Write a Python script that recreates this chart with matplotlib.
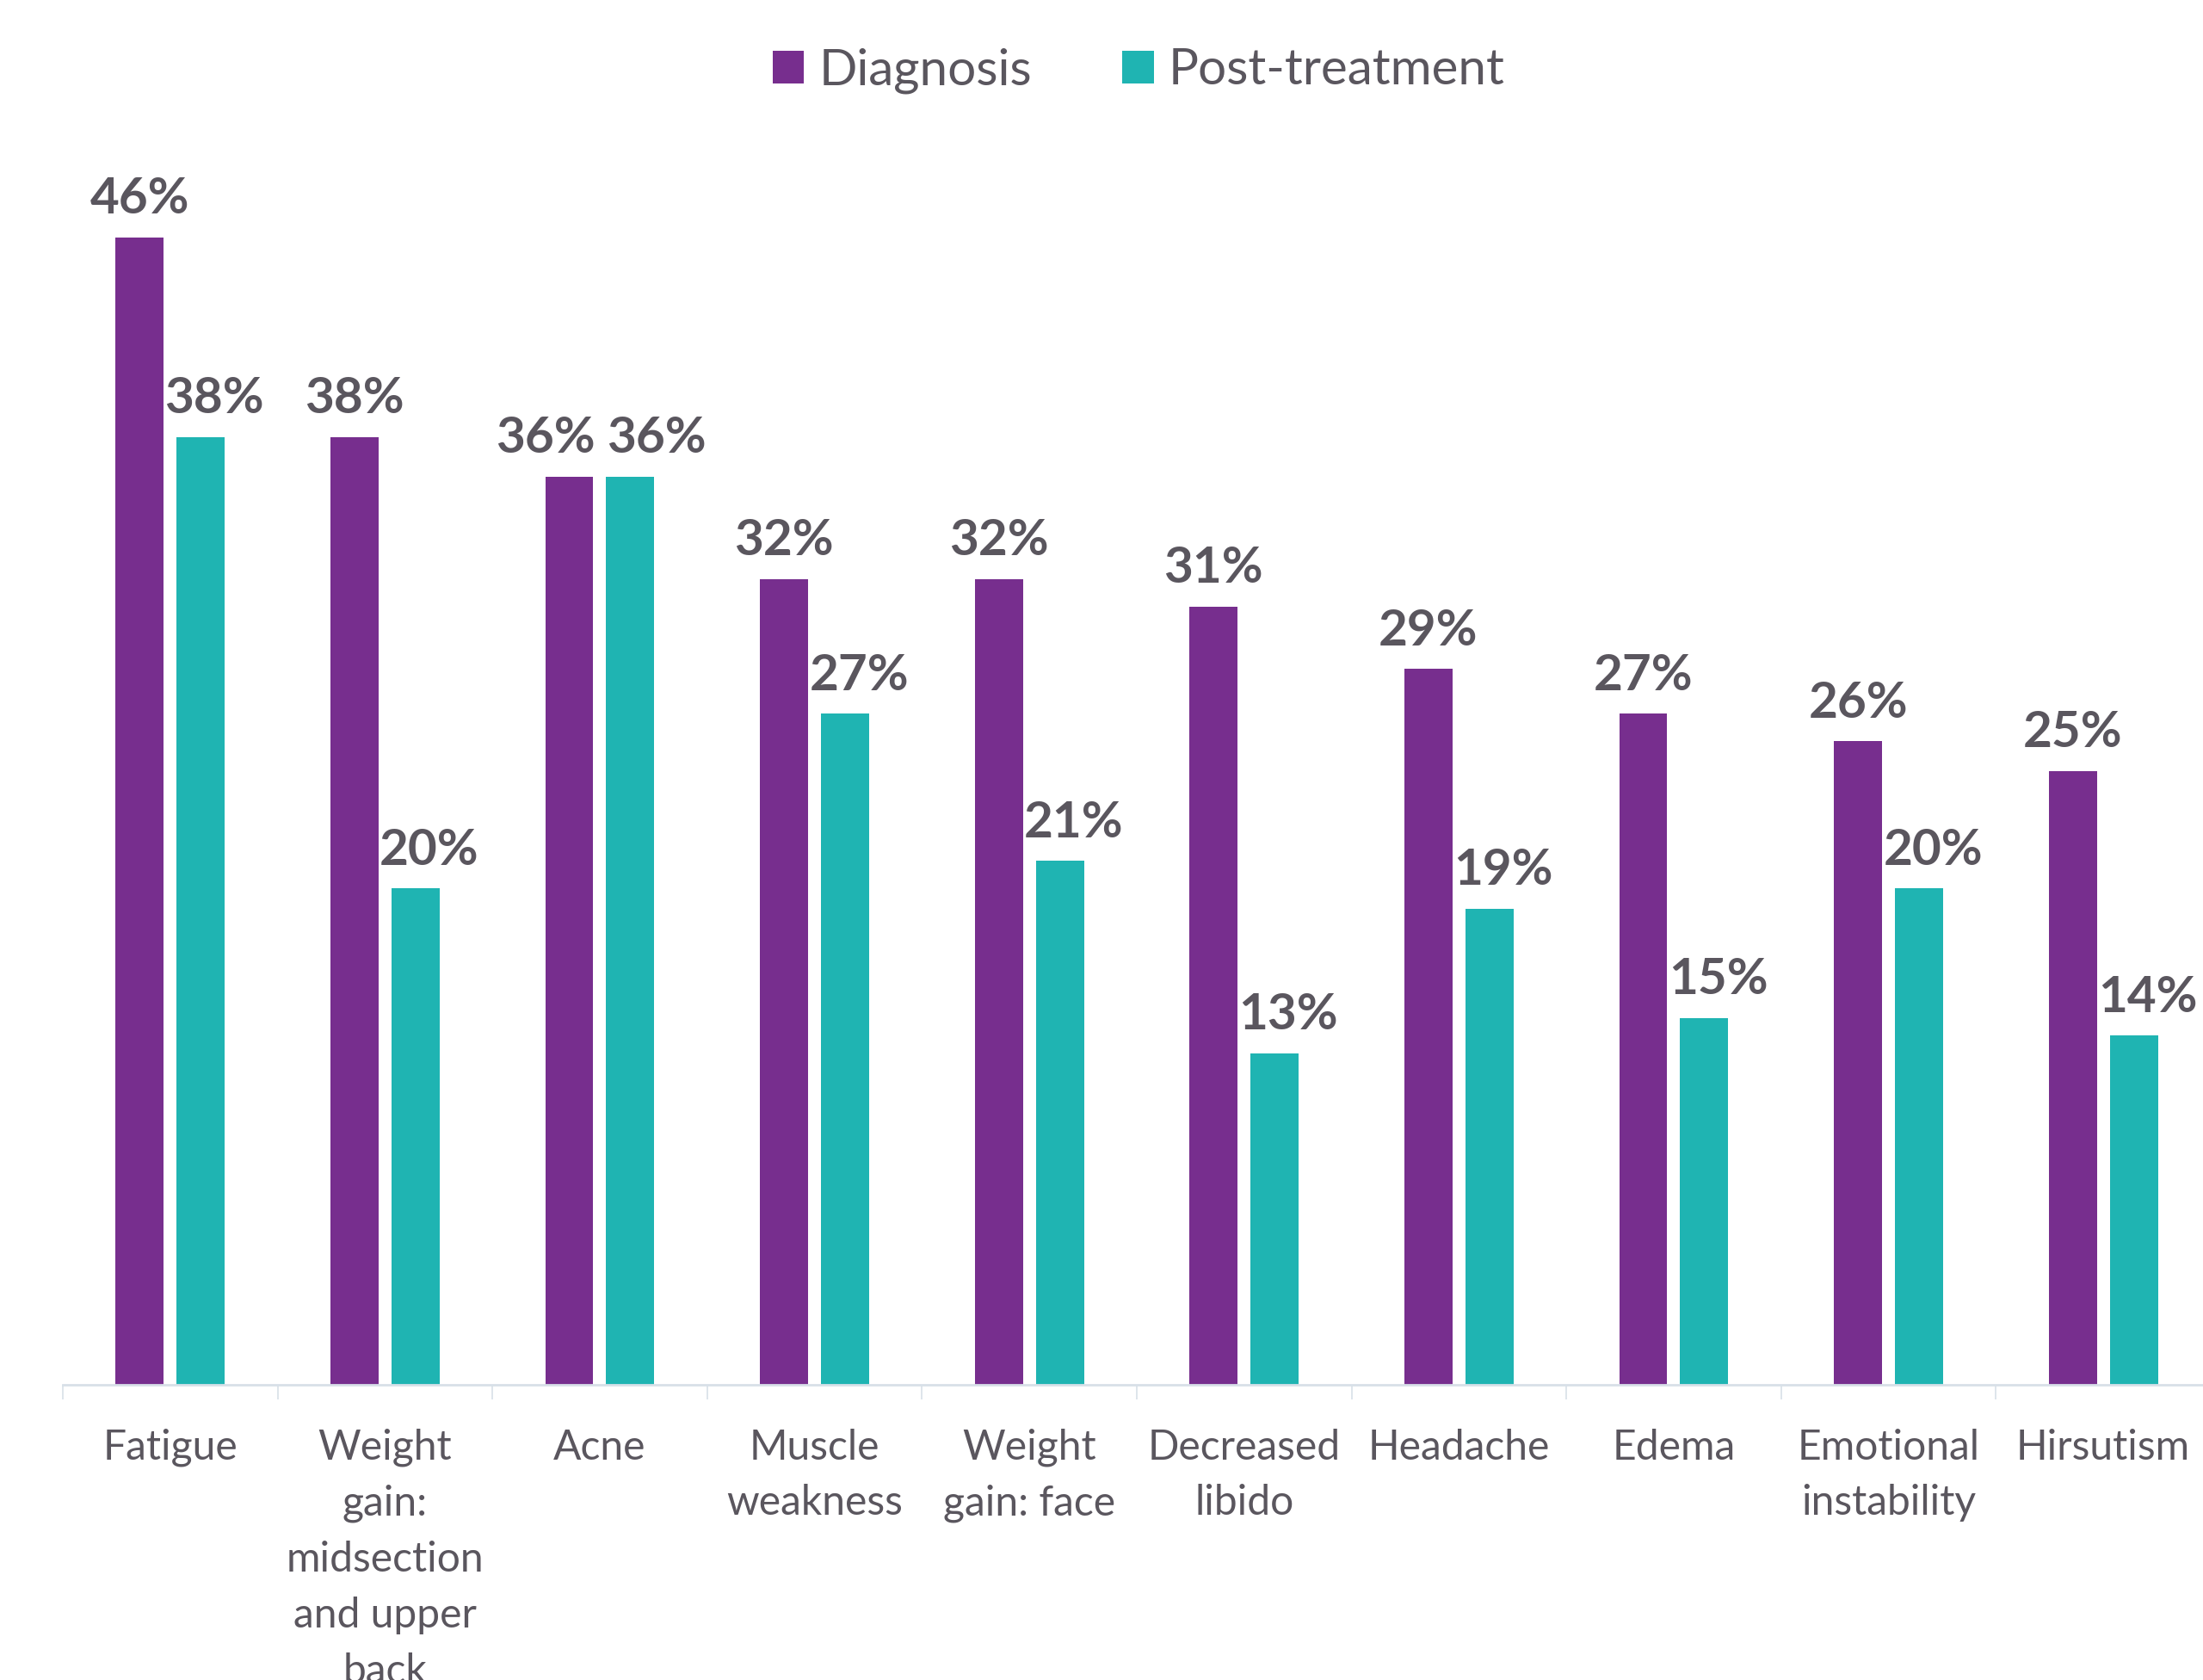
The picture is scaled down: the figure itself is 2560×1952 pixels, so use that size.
import matplotlib.pyplot as plt
import numpy as np

plt.rcParams['font.family'] = ['Lato', 'DejaVu Sans']

# symptoms reported at diagnosis vs. after treatment (%)
symptoms = ['Fatigue', 'Weight\ngain:\nmidsection\nand upper\nback', 'Acne',
            'Muscle\nweakness', 'Weight\ngain: face', 'Decreased\nlibido',
            'Headache', 'Edema', 'Emotional\ninstability', 'Hirsutism']
diagnosis = [46.0, 38.0, 36.4, 32.3, 32.3, 31.2, 28.7, 26.9, 25.8, 24.6]
post_treatment = [38.0, 19.9, 36.4, 26.9, 21.0, 13.3, 19.1, 14.7, 19.9, 14.0]

purple = '#772e8e'
teal = '#1fb4b2'
text_col = '#5a565e'
axis_col = '#d8e0e8'

fig = plt.figure(figsize=(12.8, 9.76), dpi=200)
ax = fig.add_axes([0.0285, 0.1757, 0.975, 0.7423])

x = np.arange(len(symptoms))
w = 0.224
off = 0.142
b1 = ax.bar(x - off, diagnosis, w, color=purple, label='Diagnosis')
b2 = ax.bar(x + off, post_treatment, w, color=teal, label='Post-treatment')

# labels: post-treatment ones sit a bit right of the bar, Acne pair pushed apart
for bars, dx in ((b1, 0.0), (b2, 5.8)):
    for i, r in enumerate(bars):
        h = r.get_height()
        nudge = dx
        if i == 2:
            nudge = -10.0 if bars is b1 else 11.0
        ax.annotate('{:.0f}%'.format(h), (r.get_x() + r.get_width() / 2, h),
                    xytext=(nudge, 10), textcoords='offset points',
                    ha='center', va='baseline', fontsize=21,
                    fontweight='bold', color=text_col)

ax.set_xlim(-0.5, len(symptoms) - 0.5)
ax.set_ylim(0, 50)

for s in ['top', 'right', 'left']:
    ax.spines[s].set_visible(False)
ax.spines['bottom'].set_color(axis_col)
ax.spines['bottom'].set_linewidth(1.0)
ax.set_yticks([])

ax.set_xticks(x)
ax.set_xticklabels(symptoms, fontsize=17.3, color=text_col, linespacing=1.58)
ax.tick_params(axis='x', which='major', length=0, pad=18.2)
ax.set_xticks(np.arange(len(symptoms) + 1) - 0.5, minor=True)
ax.tick_params(axis='x', which='minor', length=6, width=0.6, color=axis_col)

fig.legend(loc='center', bbox_to_anchor=(0.517, 0.958), ncol=2, frameon=False,
           fontsize=21, labelcolor=text_col, handlelength=0.62,
           handleheight=0.62, handletextpad=0.3, columnspacing=1.8)

fig.savefig('out.png', dpi=200)
